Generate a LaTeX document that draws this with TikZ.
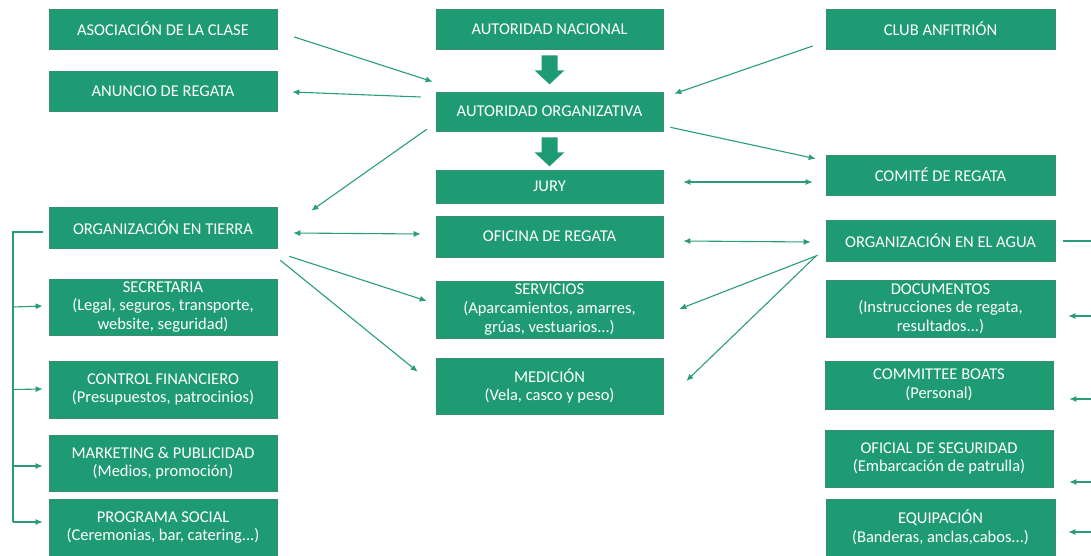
\documentclass[tikz,border=0pt]{standalone}
\usepackage{fontspec}
\setmainfont{Carlito}
\usepackage{tikz}
\usetikzlibrary{arrows.meta,calc}
\definecolor{Verde}{HTML}{1F9B74}
\definecolor{VerdeLine}{HTML}{2A9C78}
\definecolor{VerdeEdge}{HTML}{3A8F73}
\tikzset{caja/.style={draw=VerdeEdge,line width=.6pt,fill=Verde,text=white,align=center,inner sep=2pt},flow/.style={-{Latex[length=7pt,width=6pt]},line width=1.1pt,draw=VerdeLine},both/.style={{Latex[length=7pt,width=6pt]}-{Latex[length=7pt,width=6pt]},line width=1.1pt,draw=VerdeLine},bus/.style={line width=1.1pt,draw=VerdeLine}}
\newcommand\bajada[1]{\fill[Verde]($(#1.south)+(-8,6)$)--++(16,0)--++(0,15)--++(7,0)--++(-15,14)--++(-15,-14)--++(7,0)--cycle;}
\begin{document}
\begin{tikzpicture}[x=1pt,y=-1pt,every node/.style={font=\fontsize{16.5}{18.6}\selectfont}]
      \useasboundingbox (0,0) rectangle (1091,556);
      % columna izquierda
      \node[caja,minimum width=228pt,minimum height=40pt](asoc) at (163,29){ASOCIACIÓN DE LA CLASE};
      \node[caja,minimum width=228pt,minimum height=40pt](anuncio) at (163,91){ANUNCIO DE REGATA};
      \node[caja,minimum width=228pt,minimum height=41pt](tierra) at (163,227.5){ORGANIZACIÓN EN TIERRA};
      \node[caja,minimum width=228pt,minimum height=56pt](secret) at (163,307){SECRETARIA\\(Legal, seguros, transporte,\\website, seguridad)};
      \node[caja,minimum width=228pt,minimum height=57pt](control) at (163,389.5){CONTROL FINANCIERO\\(Presupuestos, patrocinios)};
      \node[caja,minimum width=228pt,minimum height=56pt](marketing) at (163,463){MARKETING \& PUBLICIDAD\\(Medios, promoción)};
      \node[caja,minimum width=228pt,minimum height=57pt](social) at (163,527.5){PROGRAMA SOCIAL\\(Ceremonias, bar, catering...)};
      % columna central
      \node[caja,minimum width=227pt,minimum height=40pt](nacional) at (549.5,29){AUTORIDAD NACIONAL};
      \node[caja,minimum width=227pt,minimum height=39pt](orgaut) at (549.5,111.5){AUTORIDAD ORGANIZATIVA};
      \node[caja,minimum width=227pt,minimum height=33pt](jury) at (549.5,186.5){JURY};
      \node[caja,minimum width=227pt,minimum height=41pt](oficina) at (549.5,236.5){OFICINA DE REGATA};
      \node[caja,minimum width=227pt,minimum height=57pt](servicios) at (549.5,309.5){SERVICIOS\\(Aparcamientos, amarres,\\grúas, vestuarios...)};
      \node[caja,minimum width=227pt,minimum height=56pt](medicion) at (549.5,386){MEDICIÓN\\(Vela, casco y peso)};
      % columna derecha
      \node[caja,minimum width=229pt,minimum height=40pt](club) at (940.5,29){CLUB ANFITRIÓN};
      \node[caja,minimum width=229pt,minimum height=40pt](comite) at (940.5,175){COMITÉ DE REGATA};
      \node[caja,minimum width=229pt,minimum height=41pt](agua) at (940.5,240.5){ORGANIZACIÓN EN EL AGUA};
      \node[caja,minimum width=229pt,minimum height=57pt](documentos) at (940.5,308.5){DOCUMENTOS\\(Instrucciones de regata,\\resultados...)};
      \node[caja,minimum width=228pt,minimum height=48pt](boats) at (939,385){COMMITTEE BOATS\\(Personal)};
      \node[caja,minimum width=228pt,minimum height=57pt](oficial) at (939,458.5){OFICIAL DE SEGURIDAD\\(Embarcación de patrulla)};
      \node[caja,minimum width=229pt,minimum height=57pt](equipacion) at (940.5,527.5){EQUIPACIÓN\\(Banderas, anclas,cabos...)};
      \coordinate (lbus) at (13,232);
      \coordinate (rbus) at (1091,241);
      % flechas gruesas
      \bajada{nacional}\bajada{orgaut}
      % conexiones
      \draw[flow]($(asoc.east)+(17,8)$)--($(orgaut.north west)+(-3,-10)$);
      \draw[flow]($(orgaut.west)+(-15,-14.5)$)--($(anuncio.east)+(15,1)$);
      \draw[flow]($(club.west)+(-13,17)$)--($(orgaut.north east)+(11,2)$);
      \draw[flow]($(orgaut.south west)+(-9,-2)$)--($(tierra.north east)+(34,4)$);
      \draw[flow]($(orgaut.south east)+(7,-4)$)--($(comite.north west)+(-10,4)$);
      \draw[both]($(jury.east)+(20,-4.5)$)--($(comite.west)+(-13,7)$);
      \draw[both]($(tierra.east)+(16,5.5)$)--($(oficina.west)+(-15,-2.5)$);
      \draw[both]($(oficina.east)+(20,4.5)$)--($(agua.west)+(-15,1.5)$);
      \draw[flow]($(tierra.south east)+(12,8)$)--($(servicios.west)+(-9,-8.5)$);
      \draw[flow]($(tierra.south east)+(3,12)$)--($(medicion.north west)+(-18,14)$);
      \draw[flow]($(agua.south west)+(-8,-6)$)--($(servicios.east)+(16,-.5)$);
      \draw[flow]($(agua.south west)+(-10,-5)$)--($(medicion.east)+(23,-5)$);
      % ramas laterales
      \draw[bus]($(tierra.west)+(-6,4.5)$)--(lbus)--(lbus |- 0,522);
      \draw[flow](lbus |- secret.west)--($(secret.west)+(-6,-1)$);
      \draw[flow](lbus |- control.west)--($(control.west)+(-6,-.5)$);
      \draw[flow]($(lbus |- marketing.west)+(0,3)$)--($(marketing.west)+(-6,3)$);
      \draw[flow]($(lbus |- social.west)+(0,-5.5)$)--($(social.west)+(-6,-5.5)$);
      \draw[bus]($(agua.east)+(8,.5)$)--(rbus);
      \draw[flow]($(rbus |- documentos.east)+(0,7.5)$)--($(documentos.east)+(13,7.5)$);
      \draw[flow]($(rbus |- boats.east)+(0,14)$)--($(boats.east)+(16,14)$);
      \draw[flow]($(rbus |- oficial.east)+(0,23.5)$)--($(oficial.east)+(16,23.5)$);
      \draw[flow]($(rbus |- equipacion.east)+(0,4.5)$)--($(equipacion.east)+(13,4.5)$);
    \end{tikzpicture}
\end{document}
